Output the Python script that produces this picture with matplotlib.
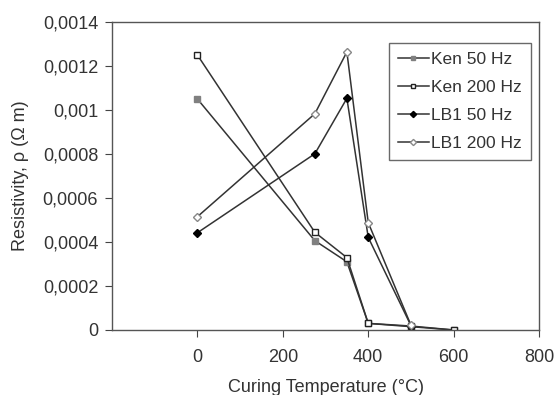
import matplotlib
matplotlib.use("Agg")
import matplotlib.pyplot as plt

plt.rcParams['font.family'] = ['Liberation Sans', 'DejaVu Sans']

temps_ken = [0, 275, 350, 400, 500, 600]
ken50 = [0.00105, 0.000406, 0.00031, 0.00003, 0.000015, 0.0]
ken200 = [0.00125, 0.000444, 0.000329, 0.00003, 0.000018, 0.0]
temps_lb1 = [0, 275, 350, 400, 500]
lb1_50 = [0.000442, 0.000801, 0.001053, 0.000421, 0.00002]
lb1_200 = [0.000515, 0.000983, 0.001264, 0.000488, 0.000022]

xticks = [0, 200, 400, 600, 800]
yticks = [0, 0.0002, 0.0004, 0.0006, 0.0008, 0.001, 0.0012, 0.0014]
ytick_labels = ["0", "0,0002", "0,0004", "0,0006", "0,0008", "0,001", "0,0012", "0,0014"]

fig = plt.figure(figsize=(5.54, 3.95), dpi=100)
ax = fig.add_axes([0.2022, 0.1646, 0.7708, 0.7797])

lc = '#333333'
ax.plot(temps_ken, ken50, color=lc, lw=1.1, marker='s', ms=4.5, mfc='#808080', mec='#808080', label='Ken 50 Hz')
ax.plot(temps_ken, ken200, color=lc, lw=1.1, marker='s', ms=4.5, mfc='white', mec='#222222', label='Ken 200 Hz')
ax.plot(temps_lb1, lb1_50, color=lc, lw=1.1, marker='D', ms=4.5, mfc='black', mec='black', label='LB1 50 Hz')
ax.plot(temps_lb1, lb1_200, color=lc, lw=1.1, marker='D', ms=4.5, mfc='white', mec='#888888', label='LB1 200 Hz')

ax.set_xlim(-200, 800)
ax.set_ylim(0, 0.0014)
ax.set_xticks(xticks)
ax.set_yticks(yticks)
ax.set_yticklabels(ytick_labels)
ax.tick_params(direction='out', length=5, color='#444444', labelsize=13, labelcolor='#333333')
ax.tick_params(axis='x', pad=9)
ax.tick_params(axis='y', pad=5)
for s in ax.spines.values():
    s.set_color('#555555')
    s.set_linewidth(1.0)

ax.set_xlabel('Curing Temperature (°C)', fontsize=13, color='#333333', labelpad=9)
ax.set_ylabel('Resistivity, ρ (Ω m)', fontsize=13, color='#333333', labelpad=10)

leg = ax.legend(loc='upper right', bbox_to_anchor=(0.981, 0.932), fontsize=12.5,
                frameon=True, fancybox=False, edgecolor='#444444', handlelength=1.8,
                handletextpad=0.15, borderpad=0.5, labelspacing=0.75, markerscale=0.7,
                borderaxespad=0)
leg.get_frame().set_linewidth(1.0)
for t in leg.get_texts():
    t.set_color('#333333')

fig.savefig('out.png', dpi=100)
